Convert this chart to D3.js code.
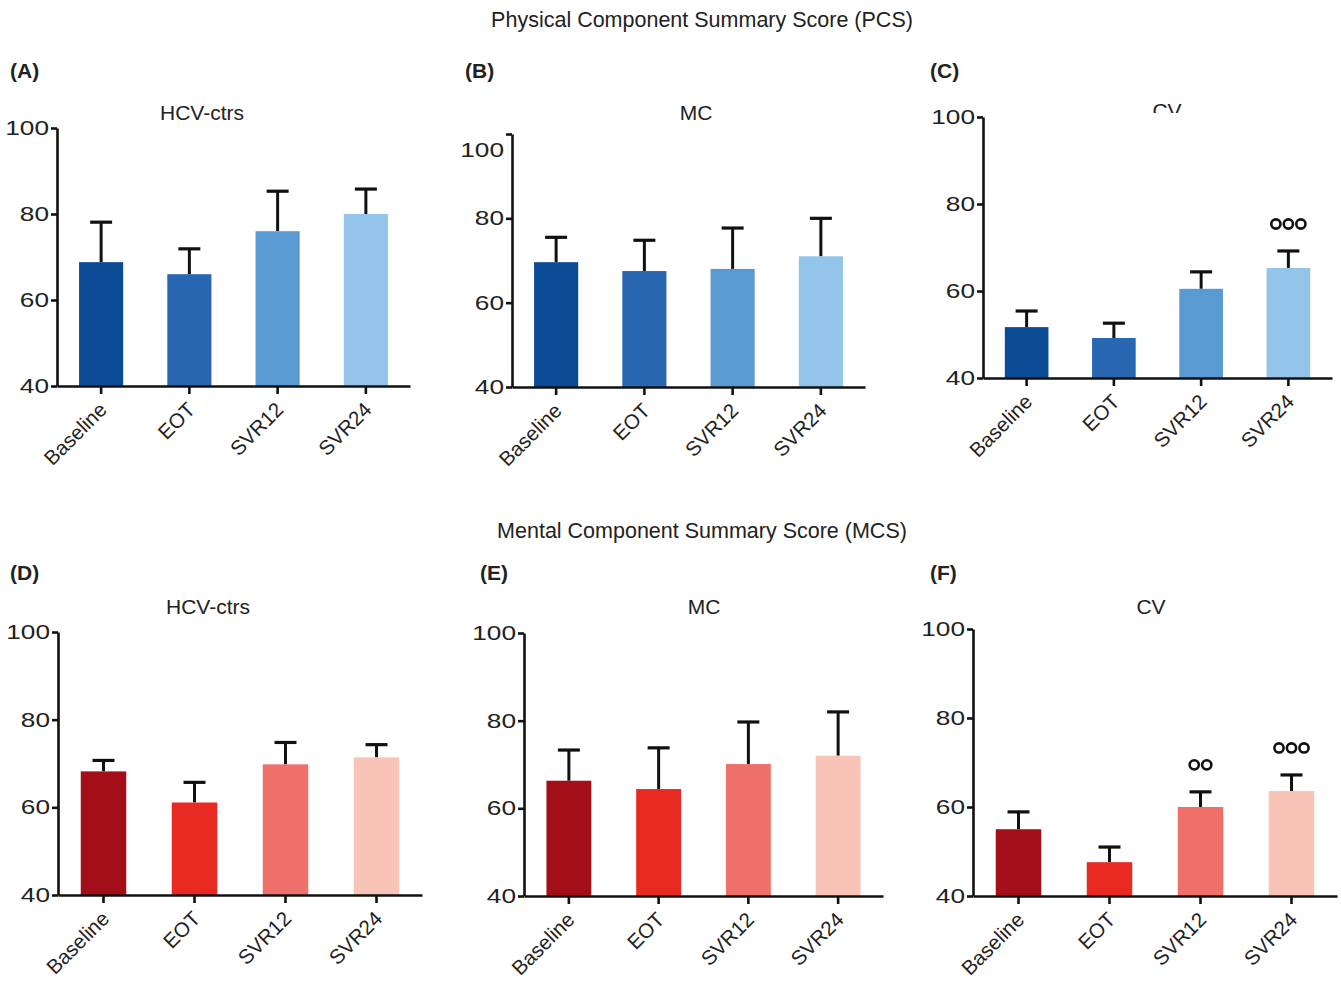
<!DOCTYPE html>
<html>

<head>
    <meta charset="utf-8">
    <title>SF-36 PCS / MCS</title>
    <style>
        body {
            margin: 0;
            background: #fff;
        }

        text {
            font-family: "Liberation Sans", Arial, sans-serif;
            fill: #222;
        }

        .axis path,
        .axis line {
            stroke: #111;
            stroke-width: 2.6px;
        }
    </style>

    <script src="https://d3js.org/d3.v7.min.js"></script>

</head>

<body>
    <script>
        // data
        var categories = ["Baseline", "EOT", "SVR12", "SVR24"];
        var yTicks = [40, 60, 80, 100];

        var pcsCtrsMean = [68.8, 66.0, 76.0, 80.0];
        var pcsCtrsSd = [9.3, 5.9, 9.3, 5.8];
        var pcsMcMean = [69.6, 67.5, 68.0, 71.0];
        var pcsMcSd = [5.9, 7.3, 9.7, 9.0];
        var pcsCvMean = [51.7, 49.2, 60.5, 65.3];
        var pcsCvSd = [3.7, 3.4, 3.9, 3.9];

        var mcsCtrsMean = [68.2, 61.1, 69.8, 71.4];
        var mcsCtrsSd = [2.5, 4.6, 5.0, 2.9];
        var mcsMcMean = [66.3, 64.4, 70.1, 72.0];
        var mcsMcSd = [7.0, 9.4, 9.6, 10.0];
        var mcsCvMean = [55.0, 47.6, 60.0, 63.6];
        var mcsCvSd = [3.9, 3.4, 3.4, 3.6];

        // number of open circles (significance marks) above each bar
        var pcsCvMarks = [0, 0, 0, 3];
        var mcsCvMarks = [0, 0, 2, 3];

        var blues = ["#0b4b96", "#2a67b3", "#5a9ad3", "#93c4e9"];
        var reds = ["#a30f19", "#e82a22", "#ef6f6b", "#f8c4b7"];

        var w = 1341;
        var h = 982;

        var svg = d3.select("body").append("svg")
            .attr("width", w)
            .attr("height", h);

        var panels = [
            { letter: "(A)", lx: 10, ly: 78, title: "HCV-ctrs", tx: 202, ty: 120, mean: pcsCtrsMean, sd: pcsCtrsSd, colors: blues, x0: 57, x1: 410, y40: 386, y100: 128 },
            { letter: "(B)", lx: 465, ly: 78, title: "MC", tx: 696, ty: 120, mean: pcsMcMean, sd: pcsMcSd, colors: blues, x0: 512, x1: 865, y40: 387, y100: 134, topLabelShift: 16 },
            { letter: "(C)", lx: 930, ly: 78, title: "CV", tx: 1167, ty: 118, clipTitle: 113, mean: pcsCvMean, sd: pcsCvSd, marks: pcsCvMarks, colors: blues, x0: 983, x1: 1332, y40: 378, y100: 117 },
            { letter: "(D)", lx: 10, ly: 580, title: "HCV-ctrs", tx: 208, ty: 614, mean: mcsCtrsMean, sd: mcsCtrsSd, colors: reds, x0: 58, x1: 422, y40: 895, y100: 632 },
            { letter: "(E)", lx: 480, ly: 580, title: "MC", tx: 704, ty: 614, mean: mcsMcMean, sd: mcsMcSd, colors: reds, x0: 524, x1: 883, y40: 896, y100: 633 },
            { letter: "(F)", lx: 930, ly: 580, title: "CV", tx: 1151, ty: 614, mean: mcsCvMean, sd: mcsCvSd, marks: mcsCvMarks, colors: reds, x0: 973, x1: 1337, y40: 896, y100: 629 }
        ];

        svg.append("text")
            .attr("x", 702).attr("y", 27)
            .attr("text-anchor", "middle")
            .style("font-size", "21.5px")
            .text("Physical Component Summary Score (PCS)");

        svg.append("text")
            .attr("x", 702).attr("y", 538)
            .attr("text-anchor", "middle")
            .style("font-size", "21.5px")
            .text("Mental Component Summary Score (MCS)");

        panels.forEach(function (p, pi) {
            var g = svg.append("g");

            var x = d3.scaleBand()
                .domain(categories)
                .range([p.x0, p.x1])
                .paddingInner(0.5)
                .paddingOuter(0.25);

            var y = d3.scaleLinear()
                .domain([40, 100])
                .range([p.y40, p.y100]);

            var rows = categories.map(function (c, i) {
                return { cat: c, mean: p.mean[i], sd: p.sd[i], color: p.colors[i], marks: p.marks ? p.marks[i] : 0 };
            });

            // panel letter
            g.append("text")
                .attr("x", p.lx).attr("y", p.ly)
                .style("font-size", "21px")
                .style("font-weight", "bold")
                .text(p.letter);

            // panel title
            var t = g.append("text")
                .attr("x", p.tx).attr("y", p.ty)
                .attr("text-anchor", "middle")
                .style("font-size", "21px")
                .text(p.title);
            if (p.clipTitle) {
                svg.append("clipPath").attr("id", "clip" + pi)
                    .append("rect")
                    .attr("x", p.tx - 60).attr("y", p.ty - 30)
                    .attr("width", 120).attr("height", p.clipTitle - (p.ty - 30));
                t.attr("clip-path", "url(#clip" + pi + ")");
            }

            // error bars (upper only)
            var err = g.selectAll(".err")
                .data(rows)
                .enter()
                .append("g")
                .attr("class", "err");

            err.append("line")
                .attr("x1", function (d) { return x(d.cat) + x.bandwidth() / 2; })
                .attr("x2", function (d) { return x(d.cat) + x.bandwidth() / 2; })
                .attr("y1", function (d) { return y(d.mean); })
                .attr("y2", function (d) { return y(d.mean + d.sd); })
                .attr("stroke", "#111")
                .attr("stroke-width", 3);

            err.append("line")
                .attr("x1", function (d) { return x(d.cat) + x.bandwidth() / 2 - 11; })
                .attr("x2", function (d) { return x(d.cat) + x.bandwidth() / 2 + 11; })
                .attr("y1", function (d) { return y(d.mean + d.sd); })
                .attr("y2", function (d) { return y(d.mean + d.sd); })
                .attr("stroke", "#111")
                .attr("stroke-width", 3.2);

            // bars
            g.selectAll("rect.bar")
                .data(rows)
                .enter()
                .append("rect")
                .attr("class", "bar")
                .attr("x", function (d) { return x(d.cat); })
                .attr("y", function (d) { return y(d.mean); })
                .attr("width", x.bandwidth())
                .attr("height", function (d) { return y(40) - y(d.mean); })
                .style("fill", function (d) { return d.color; });

            // significance circles
            rows.forEach(function (d) {
                var cx = x(d.cat) + x.bandwidth() / 2;
                var cy = y(d.mean + d.sd) - 27;
                for (var k = 0; k < d.marks; k++) {
                    g.append("circle")
                        .attr("cx", cx + (k - (d.marks - 1) / 2) * 12.5)
                        .attr("cy", cy)
                        .attr("r", 4.6)
                        .style("fill", "none")
                        .style("stroke", "#111")
                        .style("stroke-width", 2.6);
                }
            });

            // axes
            var yAxis = g.append("g")
                .attr("class", "axis")
                .attr("transform", "translate(" + p.x0 + ",0)")
                .call(d3.axisLeft(y).tickValues(yTicks).tickSize(6).tickSizeOuter(0));

            yAxis.selectAll("text")
                .attr("x", 0)
                .attr("transform", function (d) {
                    var shift = (d === 100 && p.topLabelShift) ? p.topLabelShift : 0;
                    return "translate(-8," + shift + ") scale(1.28,1)";
                })
                .style("font-size", "20.5px")
                .style("font-family", "Liberation Sans, Arial, sans-serif")
                .style("fill", "#222");

            var xAxis = g.append("g")
                .attr("class", "axis")
                .attr("transform", "translate(0," + p.y40 + ")")
                .call(d3.axisBottom(x).tickSize(8).tickSizeOuter(0));

            xAxis.selectAll("text")
                .attr("x", 0).attr("y", 0).attr("dy", 0)
                .attr("text-anchor", "end")
                .attr("transform", "translate(7,25) rotate(-45)")
                .style("font-size", "20.5px")
                .style("font-family", "Liberation Sans, Arial, sans-serif")
                .style("fill", "#222");
        });
    </script>

</body>

</html>
